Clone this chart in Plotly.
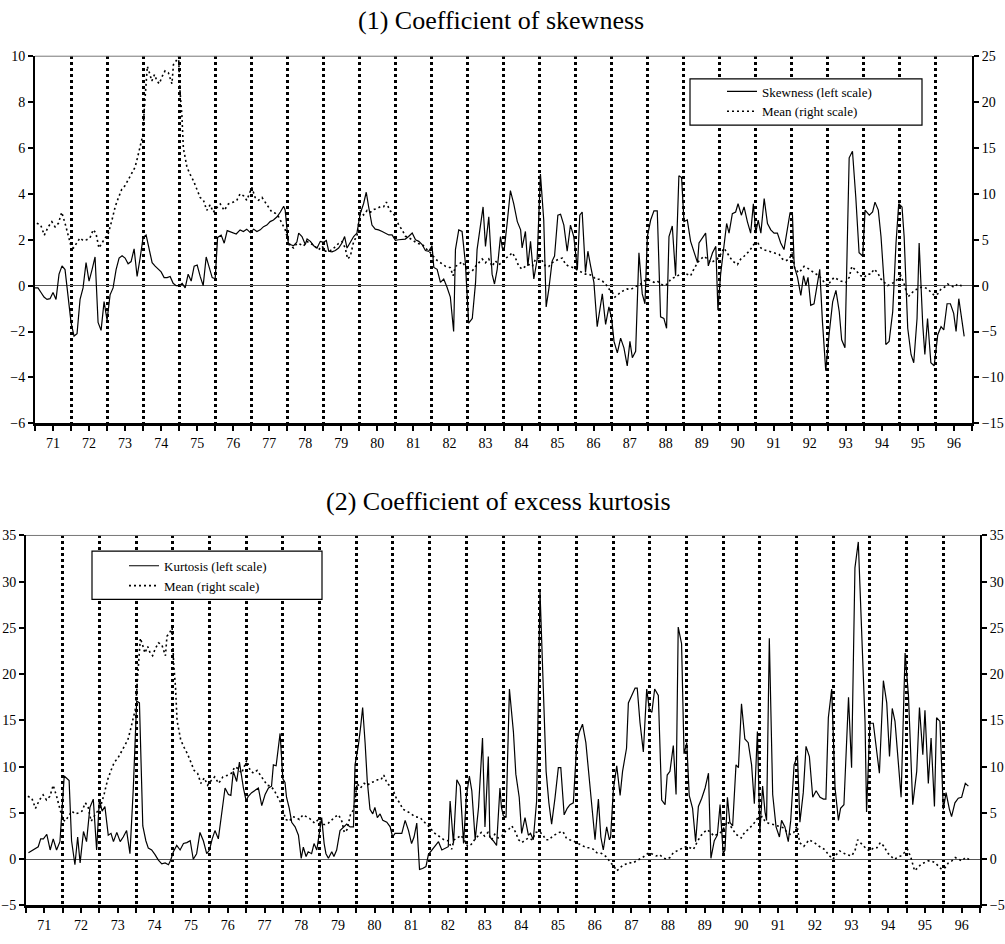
import plotly.graph_objects as go

# ---------------- data (month index from Jan-1971, value) ----------------
skew_m = [0, 1, 2, 3, 4, 5, 6, 7, 8, 9, 10, 11, 12, 13, 14, 15, 16, 17, 18, 19, 20, 21, 22, 23, 24, 25, 26, 27, 28, 29,
          30, 31, 32, 33, 34, 35, 36, 37, 38, 39, 40, 41, 42, 43, 44, 45, 46, 47, 48, 49, 50, 51, 52, 53, 54, 55, 56, 57,
          58, 59, 60, 60.8, 62, 63, 64, 65, 66, 67,
          68.3, 69.4, 70.5, 71.7, 72.8, 73.9, 75, 76.1, 77.2, 78.3, 79.4, 80.6, 81.7, 82.8, 83.3, 83.9, 84.4, 85, 86.1,
          87.2, 87.8, 88.9, 90, 90.6, 91.7, 92.8, 93.9, 95, 96.1, 97, 97.8, 98.9, 100, 101.1, 102.2, 103.1, 103.9, 105,
          106.1, 107.2, 108.3, 109.4, 110.3, 111.1, 112.2, 113.3, 114.4, 115.6, 116.7, 117.8, 118.9, 120, 121.1, 122.2,
          123.3, 124.4, 125.6, 126.7, 127.8, 128.9, 130, 131.1, 132.2, 132.8, 133.9, 135, 136.1, 137.2, 138.3, 139.4,
          140, 141.1, 142.2, 143.3, 144.4, 145.6, 146.7, 147.2, 148.3,
          149.2, 150, 151.1, 152.2, 153, 153.9, 155, 155.6, 156.3, 157.2, 158.3, 159.4, 160.6, 161.7, 162.2, 163.3,
          164.1, 165, 166.1, 167.2, 168.3, 169.4, 170.2, 171.1, 172.2, 173, 174.1, 175, 176.1, 177.2, 178.3, 179.4,
          180.6, 181.4, 182.2, 183.3, 184.1, 185, 186.1, 187.2, 188.3, 188.9, 190, 191.1, 192, 192.8, 193.9, 195, 196.1,
          197.2, 198.1, 198.9, 200, 201.1, 202.2, 203.1, 203.9, 205, 206.1, 207.2, 208.3, 209.4, 210.3, 211.1, 212.2,
          213.3, 214.4, 215.3, 216.1, 217.2, 218.3, 219.4, 220.6, 221.1, 222.2, 223.3, 224.2, 225.6, 226.7, 227.4,
          228.3, 229.4, 230.3, 231.1,
          232.2, 233.3, 234.1, 235.2, 236.1, 237.2, 238.3, 239.2, 240, 240.8, 241.7, 242.8, 243.9, 245, 246.1, 247.2,
          248.3, 249.4, 250.6, 251.4, 252.2, 252.8, 253.9, 255, 255.9, 256.7, 257.4, 258.3, 259.4, 260.6, 261.3, 262.2,
          263.3, 264.4, 265.6, 266.7, 267.8, 268.6, 269.7, 271.1, 272.2, 273.3, 274.4, 275.6, 276.4, 277.8, 278.9,
          279.7, 280.8, 281.7, 282.8, 283.3, 284.4, 285.6, 286.7, 287.6, 288.7, 289.4, 290.6, 291.7, 292.6, 293.7,
          294.4, 295.6, 296.3, 297.2, 298.3, 299.4, 300.6, 301.7, 302.6, 303.7, 304.8, 305.9, 306.7, 307.6, 308.6, 309.4]
skew_v = [-0.1, -0.1, -0.3, -0.5, -0.6, -0.57, -0.3, -0.6, 0.5, 0.86, 0.7, -0.5, -1.6, -2.2, -2.1, -0.6, -0.1, 1.0, 0.2,
          0.7, 1.25, -1.6, -1.95, -0.7, -1.5, -0.4, -0.1, 0.7, 1.2, 1.3, 1.2, 0.95, 1.05, 1.6, 0.4, 1.2, 2.1, 2.2, 1.6,
          1.0, 0.85, 0.7, 0.6, 0.35, 0.35, 0.4, 0.1, 0.0, 0.0, 0.1, -0.1, 0.5, 0.2, 0.85, 0.9, 0.4, 0.0, 1.25, 0.8, 0.35,
          0.3, 2.1, 2.2, 1.85, 2.4, 2.35, 2.3, 2.25,
          2.43, 2.36, 2.46, 2.31, 2.46, 2.36, 2.43, 2.57, 2.64, 2.79, 2.86, 3.0, 3.21, 3.46, 3.29, 2.57, 1.79, 1.79,
          1.74, 1.9, 2.29, 2.14, 1.79, 2.03, 1.93, 1.74, 1.64, 1.93, 1.89, 1.97, 1.5, 1.47, 1.53, 1.64, 1.86, 2.14,
          1.64, 1.89, 2.14, 2.29, 3.14, 3.57, 4.07, 3.43, 2.64, 2.46, 2.43, 2.36, 2.29, 2.21, 2.21, 1.97, 2.0, 2.0,
          2.03, 2.14, 2.29, 2.0, 1.93, 1.79, 1.53, 1.5, 1.74, 0.79, 0.71, 0.14, 0.29, -0.07, -0.5, -2.0, 1.57, 2.43,
          2.36, 1.0, -1.64, -1.43, 0.14, 1.57, 2.71,
          3.43, 1.71, 3.0, 0.5, 0.07, 0.71, 2.14, 1.64, 1.64, 2.71, 4.14, 3.57, 2.79, 2.43, 1.64, 2.36, 0.86, 1.93,
          0.29, 1.14, 4.86, 2.86, -0.93, -0.14, 1.07, 1.29, 3.07, 3.11, 2.64, 1.5, 2.64, 2.14, 0.71, 3.07, 3.21, 0.57,
          1.5, 0.86, 0.14, -1.79, -0.71, -0.36, -1.69, -0.93, -1.43, -2.43, -2.93, -2.29, -2.71, -3.5, -2.43, -3.14,
          -2.86, 1.43, -0.36, -0.79, 2.14, 2.86, 3.26, 3.26, -1.36, -1.43, -1.86, 2.14, 2.6, 0.43, 4.79, 4.71, 2.79,
          2.86, 1.93, 1.43, 1.0, 1.86, 2.07, 2.29, 0.86, 1.43, 1.71, -1.07, 0.5, 1.79, 2.71, 2.29,
          3.14, 3.21, 3.57, 3.07, 3.43, 2.79, 2.29, 3.57, 2.29, 2.86, 2.29, 3.79, 2.71, 2.43, 2.29, 2.29, 1.86, 1.57,
          2.43, 3.17, 3.14, 0.86, 0.36, -0.43, 0.43, 0.0, 0.36, -0.86, -0.79, 0.29, 0.71, -1.57, -3.71, -2.14, -0.71,
          -0.21, -1.14, -2.36, -2.71, 5.57, 5.86, 3.86, 1.43, 1.29, 3.29, 3.07, 3.21, 3.64, 3.29, 2.14, 0.0, -2.57,
          -2.43, -1.14, 1.86, 3.57, 3.43, 2.14, -1.86, -3.0, -3.36, -1.43, 1.86, -1.71, -3.0, -1.43, -3.36, -3.5, -2.14,
          -1.79, -1.93, -0.79, -0.79, -1.21, -2.0, -0.57, -1.43, -2.21]

mean_m = [0.6, 1.9, 3.1, 4.4, 5.6, 6.7, 7.8, 8.9, 10, 11.1, 12, 12.8, 13.9, 15, 16.1, 17.2, 18.3, 19.4, 20.3, 21.3, 22.2,
          23.3, 24.4, 25.6, 26.7, 27.8, 28.9, 30, 31.1, 32.2, 33.3, 34.1, 35, 35.9, 36.4, 36.9, 37.4, 38.1, 38.9, 39.8,
          40.6, 41.4, 42.2, 43.3, 44.4, 45.6, 46.1, 47, 47.8, 48.3, 48.9, 49.4, 50.6, 51.7, 52.8, 53.9, 55, 56.1, 57.2,
          58.3, 59.4, 60.3, 61.7, 63, 64.4, 66.1, 67.2,
          68.3, 69.4, 70.5, 71.7, 72.2, 73.3, 74.4, 75.6, 76.7, 77.8, 78.9, 80, 81.1, 82.2, 83.3, 83.9, 85, 86.1, 87.2,
          88.3, 89.4, 90.6, 91.7, 92.8, 94.4, 95.6, 96.7, 97.8, 98.9, 100, 101.1, 102.2, 103.3, 104.1, 105, 106.1, 107.2,
          108.3, 109.4, 110.6, 111.7, 112.8, 113.9, 115, 116.1, 117, 118.1, 119.2, 120, 121.1, 122.2, 123.3, 124.4,
          125.6, 127.2, 128.9, 130, 131.1, 132.2, 133.3, 135, 136.7, 138.3, 139.2, 140, 141.1, 142.2, 143.3, 144.4,
          145.6, 146.7, 147.8, 148.9,
          150, 151.1, 152.2, 153.3, 154.4, 155.6, 156.7, 157.8, 158.9, 160, 161.1, 162.2, 163.3, 164.4, 165.6, 166.7,
          167.8, 168.9, 170, 171.1, 172.2, 173.3, 174.4, 175.6, 176.7, 177.8, 178.9, 180, 181.1, 182.2, 183.3, 184.4,
          185.6, 186.7, 187.8, 188.9, 190, 191.1, 192.2, 193.1, 193.9, 195, 196.1, 197.2, 198.3, 199.4, 200.6, 201.7,
          202.8, 203.9, 205, 206.1, 207.2, 208.3, 209.4, 210.6, 211.7, 212.8, 213.9, 215, 216.1, 217.2, 218.3, 219.4,
          220.6, 221.7, 222.8, 223.9, 225, 226.1, 227.2,
          228.3, 229.4, 230.6, 232.2, 233.9, 235, 236.1, 237.8, 239.4, 240.8, 241.7, 242.8, 244.4, 246.1, 247.8, 248.9,
          250, 251.1, 252.2, 253, 254.4, 256.1, 257.8, 259.4, 261.1, 262.8, 263.9, 265, 266.1, 267.2, 268.3, 270, 271.1,
          272, 273.3, 275, 276.1, 277.2, 278.3, 279.4, 280.6, 281.7, 282.8, 283.9, 285, 286.1, 287.2, 288.3, 289.4,
          290.6, 291.7, 292.8, 293.9, 295, 296.1, 297.2, 298.3, 299.4, 300.6, 301.7, 302.8, 303.9, 305, 306.1, 307.2,
          308.3, 309.4]
mean_v = [6.8, 6.6, 5.5, 6.4, 6.96, 6.4, 6.8, 8.0, 6.8, 5.4, 4.3, 4.1, 4.6, 5.2, 4.9, 5.0, 5.2, 6.1, 5.7, 4.1, 4.6, 5.2,
          5.7, 7.1, 8.6, 9.6, 10.5, 10.9, 11.6, 12.3, 12.9, 13.9, 15.0, 16.4, 19.3, 21.8, 23.9, 23.2, 22.3, 23.0, 22.3,
          22.0, 22.7, 23.4, 23.2, 22.0, 24.1, 24.5, 25.0, 21.1, 18.6, 15.0, 12.9, 12.1, 11.4, 10.5, 9.6, 9.3, 8.2, 8.8,
          8.0, 8.4, 8.9, 8.2, 8.9, 9.1, 9.3,
          10.0, 9.8, 9.3, 10.4, 10.7, 9.6, 9.3, 9.6, 9.1, 8.6, 8.0, 7.9, 7.5, 6.8, 6.1, 5.4, 4.3, 4.1, 4.6, 4.5, 4.3,
          4.8, 4.6, 4.4, 3.9, 4.3, 3.75, 3.75, 3.9, 4.3, 4.6, 4.8, 4.1, 2.9, 3.2, 4.8, 5.4, 8.2, 7.7, 8.2, 8.0, 8.3, 8.4,
          8.6, 8.6, 9.1, 8.2, 7.9, 7.5, 6.6, 6.1, 5.4, 5.2, 5.0, 4.6, 4.5, 4.1, 3.75, 3.4, 2.9, 2.5, 2.1, 1.96, 1.07,
          2.1, 2.3, 2.6, 2.1, 1.4, 1.6, 2.1, 2.5, 2.9,
          2.5, 2.9, 2.1, 2.7, 2.3, 2.5, 3.0, 3.2, 3.6, 3.0, 2.1, 1.8, 2.1, 2.3, 2.1, 2.9, 3.0, 2.7, 2.1, 2.1, 2.5, 2.7,
          2.9, 3.0, 2.3, 2.1, 2.0, 1.8, 1.6, 1.4, 1.25, 1.25, 1.07, 0.7, 0.7, 0.5, 0.2, -0.36, -0.7, -1.25, -1.07, -0.7,
          -0.5, -0.36, -0.43, -0.18, 0.0, 0.18, 0.5, 0.7, 0.5, 0.36, 0.5, 0.18, 0.0, 0.18, 0.7, 0.9, 1.07, 1.25, 1.4,
          1.25, 1.07, 1.8, 2.5, 2.9, 3.2, 2.9, 2.5, 2.7, 2.9,
          3.4, 4.1, 3.5, 2.7, 2.3, 2.9, 3.2, 3.75, 4.5, 4.6, 4.1, 3.9, 3.75, 3.6, 3.4, 2.9, 2.7, 2.9, 3.6, 1.8, 1.4,
          2.1, 1.8, 1.4, 1.07, 0.36, 0.0, 0.5, 0.9, 0.7, 0.5, 0.36, 0.9, 2.1, 1.6, 1.07, 0.9, 1.25, 1.25, 1.8, 1.4,
          0.7, 0.36, 0.0, 0.18, 0.36, 0.7, 1.07, 0.18, -1.25, -0.9, -0.5, -0.36, -0.18, -0.18, -0.36, -0.7, -1.07,
          -0.9, -0.36, -0.18, 0.18, 0.0, -0.18, 0.18, 0.0, 0.0]

kurt_m = [0.8, 1.9, 2.9, 4, 4.8, 5.7, 6.8, 7.9, 8.9, 10, 11.1, 12.5, 14.1, 14.9, 16, 16.9, 17.7, 18.8, 19.8, 20.9, 22,
          23.1, 24, 24.9, 25.8, 26.9, 27.8, 28.6, 29.7, 30.8, 31.8, 32.9, 34, 35.1, 36.2, 37.1, 38.2, 39.2, 40, 41.1,
          42.2, 43.3, 44.4, 45.5, 46.6, 47.3, 48.2, 49.3, 50.4, 51.5, 52.6, 53.7, 54.7, 55.8, 56.9, 58, 59.1, 60, 60.9,
          61.8, 62.9, 64, 65.1, 66.2, 67, 67.8, 68.9, 69.8,
          71.1, 72, 72.7, 73.8, 74.9, 76, 77.1, 78.2, 79.3, 80.3, 80.9, 81.8, 83.1, 84, 84.7, 85.2, 86.1, 86.9, 88,
          89.1, 90, 90.7, 91.6, 92.3, 93.4, 94.2, 95.1, 96, 96.7, 97.5, 98.1, 98.9, 100, 100.7, 101.6, 102.7, 103.8,
          104.9, 106, 107.1, 107.6, 108.7, 109.5, 110.1, 110.9, 111.6, 112.5, 113.4, 114.1, 114.9, 115.8, 116.7, 118,
          119.1, 119.9, 120.7, 121.8, 122.9, 124, 125.1, 126.1, 126.9, 127.8, 128.7, 129.7, 130.8, 131.6, 132.7, 133.8,
          134.9, 136, 137.1, 138.1, 138.7, 139.8, 140.9, 142, 143.1, 144, 145, 145.8, 146.9, 148,
          149.3, 150.1, 151.2, 151.7, 152.8, 153.9, 155, 155.5, 156.1, 157, 158.1, 158.8, 159.4, 160.2, 161.3, 162.1,
          163.2, 164.3, 165, 165.9, 167, 168.1, 169.2, 170.1, 171, 171.9, 173, 174.1, 174.9, 176, 177, 177.9, 179,
          180.1, 180.9, 182, 183.1, 184, 185, 186.1, 187.2, 188, 188.8, 189.9, 190.8, 191.2, 192.1, 193.2, 194.3, 195.1,
          196.4, 197, 198.1, 199.2, 199.9, 200.8, 201.9, 203, 203.9, 204.7, 205.6, 206.8, 207.9, 209, 209.7, 210.6,
          211.7, 212.6, 213.3, 214.4, 215.2, 216.1, 216.9, 218, 219, 219.9, 221, 222.1, 223.2, 224, 225.1, 226.1,
          227, 228, 228.6, 229.4, 230.2, 231.1, 232.2, 233, 234, 235.1, 236.2, 237.3, 238.2, 239.2, 240, 240.9, 241.7,
          242.2, 243.1, 244.2, 245.3, 246.4, 247.1, 248.2, 249.3, 250.1, 251.2, 252.3, 253.1, 254.2, 255.1, 256.2,
          257.3, 258.4, 259.7, 260.8, 261.6, 262.4, 263.5, 264.6, 265.7, 266.4, 267.5, 269, 270, 271.1, 272.2, 273.3,
          274.4, 274.9, 276, 277.1, 278.2, 279.1, 280.4, 281.5, 282.4, 283.3, 284.2, 285.1, 286.2, 287.5, 288.6, 290,
          291.3, 292.2, 293.3, 294, 295.1, 296, 297.1, 297.8, 298.9, 300, 300.9, 302, 302.7, 303.8, 304.9, 306, 307.2,
          308.2, 309]
kurt_v = [0.7, 0.9, 1.06, 1.35, 2.2, 2.2, 2.7, 1.0, 2.2, 1.0, 1.9, 9.0, 8.5, 2.0, -0.6, 2.4, -0.4, 3.0, 1.9, 5.6, 6.5,
          1.0, 6.5, 5.2, 5.7, 2.6, 2.8, 1.9, 2.9, 1.9, 2.4, 3.1, 0.6, 7.7, 17.1, 16.9, 3.6, 2.0, 1.2, 1.0, 0.5, -0.1,
          -0.5, -0.4, -0.6, -0.1, 0.8, 1.5, 1.0, 1.7, 1.8, 2.0, 0.0, 0.6, 2.9, 2.0, 0.6, 1.0, 2.2, 3.1, 2.2, 4.9, 7.7,
          7.0, 6.9, 9.5, 8.4, 10.5,
          7.7, 6.3, 6.8, 7.2, 7.5, 7.7, 5.8, 7.0, 7.7, 7.9, 10.2, 10.1, 13.6, 8.7, 8.3, 6.7, 5.5, 4.0, 3.5, 2.6, 0.1,
          1.3, 0.3, 0.8, 0.6, 1.7, 1.0, 2.8, 4.5, 1.7, 0.6, 0.1, 0.8, 0.3, 1.0, 3.1, 3.5, 3.8, 3.5, 3.5, 10.2, 12.3,
          14.5, 16.4, 12.6, 8.5, 5.4, 4.9, 5.6, 4.5, 4.9, 4.2, 4.0, 3.5, 2.4, 2.8, 2.8, 2.8, 4.2, 3.1, 1.7, 2.4, 3.9,
          -1.1, -1.0, -0.8, 0.5, 1.0, 1.5, 1.9, 1.0, 1.2, 1.35, 6.3, 1.7, 8.6, 7.9, 1.7, 6.7, 9.0, 7.4, 2.1, 5.6,
          13.1, 3.5, 11.1, 2.4, 2.0, 1.5, 7.7, 5.6, 4.7, 4.5, 18.4, 15.6, 13.8, 9.2, 6.7, 2.8, 4.5, 2.6, 2.8, 2.1, 6.3,
          29.0, 17.7, 9.5, 6.1, 3.8, 6.6, 9.9, 9.9, 4.8, 5.5, 5.9, 6.1, 12.3, 13.7, 14.6, 12.6, 9.2, 5.6, 2.1, 6.5,
          2.4, 1.0, 3.5, 2.1, 2.4, 7.6, 10.1, 6.9, 9.5, 12.0, 16.9, 17.7, 18.5, 18.5, 14.8, 11.6, 18.4, 16.1, 15.9,
          18.4, 17.7, 6.4, 5.9, 9.1, 9.5, 12.3, 7.0, 25.1, 23.3, 11.4, 12.6, 6.9, 5.5, 1.9, 5.7, 6.6, 7.7, 9.3, 0.1,
          2.0, 2.6,
          5.9, 0.6, 1.0, 6.7, 4.0, 3.6, 10.2, 9.9, 16.8, 13.0, 12.6, 10.2, 6.0, 13.8, 2.8, 7.9, 5.1, 4.2, 23.9, 7.0,
          3.5, 2.4, 4.2, 3.5, 1.9, 4.2, 10.2, 11.2, 4.0, 7.2, 12.2, 11.1, 6.7, 7.4, 6.7, 6.5, 6.5, 15.3, 18.4, 7.7,
          4.2, 5.5, 5.9, 17.5, 9.9, 31.5, 34.3, 24.8, 14.9, 5.1, 14.7, 14.7, 11.6, 9.3, 19.3, 16.9, 11.1, 16.3, 14.9,
          11.3, 6.7, 22.3, 17.7, 5.9, 9.5, 16.4, 11.3, 16.1, 8.2, 13.1, 5.7, 15.3, 14.9, 5.4, 7.2, 5.4, 4.6, 6.1, 6.6,
          6.7, 8.2, 7.9]

years = list(range(1971, 1997))
year_labels = [str(y % 100) for y in years]


def to_year(months):
    return [1971 + m / 12.0 for m in months]


FONT = "Liberation Serif"
W, H = 1005, 944

fig = go.Figure()
fig.add_trace(go.Scatter(x=to_year(skew_m), y=skew_v, mode="lines", name="Skewness (left scale)",
                         line=dict(color="black", width=1.2), xaxis="x", yaxis="y", legend="legend"))
fig.add_trace(go.Scatter(x=to_year(mean_m), y=mean_v, mode="lines", name="Mean (right scale)",
                         line=dict(color="black", width=1.6, dash="2px,3px"), xaxis="x", yaxis="y2",
                         legend="legend"))
fig.add_trace(go.Scatter(x=to_year(kurt_m), y=kurt_v, mode="lines", name="Kurtosis (left scale)",
                         line=dict(color="black", width=1.2), xaxis="x2", yaxis="y3", legend="legend2"))
fig.add_trace(go.Scatter(x=to_year(mean_m), y=mean_v, mode="lines", name="Mean (right scale)",
                         line=dict(color="black", width=1.6, dash="2px,3px"), xaxis="x2", yaxis="y4",
                         legend="legend2"))


def xaxis_cfg(domain, anchor):
    return dict(domain=domain, anchor=anchor, range=[years[0], years[-1] + 1],
                tickmode="array", tickvals=[y + 0.5 for y in years], ticktext=year_labels,
                ticks="outside", ticklen=5, tickwidth=1.5, tickcolor="black",
                showgrid=False, zeroline=False, showline=True, linecolor="black", linewidth=3,
                tickfont=dict(family=FONT, size=14, color="black"),
                minor=dict(tickmode="linear", tick0=years[0], dtick=1, ticks="outside", ticklen=5,
                           tickwidth=1.5, tickcolor="black", showgrid=True, gridcolor="black",
                           gridwidth=2.5, griddash="3px,3px"))


def yaxis_cfg(domain, anchor, rng, dtick, side="left", overlaying=None, zero=False):
    d = dict(domain=domain, anchor=anchor, range=rng, dtick=dtick, side=side,
             ticks="outside", ticklen=5, tickwidth=1.5, tickcolor="black",
             showgrid=False, showline=True, linecolor="black", linewidth=2,
             zeroline=zero, zerolinecolor="#555555", zerolinewidth=1,
             tickfont=dict(family=FONT, size=14, color="black"))
    if overlaying:
        d["overlaying"] = overlaying
        d.pop("domain")
    return d


top_x = [35 / W, 972 / W]
top_y = [1 - 423 / H, 1 - 50 / H]
bot_x = [26 / W, 980 / W]
bot_y = [1 - 913 / H, 1 - 537 / H]

legend_common = dict(bgcolor="rgba(0,0,0,0)", borderwidth=0,
                     font=dict(family=FONT, size=13, color="black"),
                     xanchor="left", yanchor="middle", tracegroupgap=0)


def legend_box(x0, y0, x1, y1):
    return dict(type="rect", xref="paper", yref="paper", x0=x0 / W, x1=x1 / W,
                y0=1 - y1 / H, y1=1 - y0 / H, layer="above",
                fillcolor="white", line=dict(color="black", width=1.2))


fig.update_layout(
    width=W, height=H, margin=dict(l=0, r=0, t=0, b=0),
    paper_bgcolor="white", plot_bgcolor="white",
    font=dict(family=FONT, size=14, color="black"),
    xaxis=xaxis_cfg(top_x, "y"),
    yaxis=yaxis_cfg(top_y, "x", [-6, 10], 2, zero=True),
    yaxis2=yaxis_cfg(None, "x", [-15, 25], 5, side="right", overlaying="y"),
    xaxis2=xaxis_cfg(bot_x, "y3"),
    yaxis3=yaxis_cfg(bot_y, "x2", [-5, 35], 5, zero=True),
    yaxis4=yaxis_cfg(None, "x2", [-5, 35], 5, side="right", overlaying="y3"),
    legend=dict(x=722 / W, y=1 - 96 / H, **legend_common),
    legend2=dict(x=124 / W, y=1 - 578 / H, **legend_common),
    showlegend=True,
    annotations=[
        dict(text="(1) Coefficient of skewness", x=501 / W, y=1 - 14 / H, xref="paper", yref="paper",
             xanchor="center", yanchor="middle", showarrow=False,
             font=dict(family=FONT, size=26, color="black")),
        dict(text="(2) Coefficient of excess kurtosis", x=498 / W, y=1 - 502 / H, xref="paper", yref="paper",
             xanchor="center", yanchor="middle", showarrow=False,
             font=dict(family=FONT, size=26, color="black")),
    ],
    shapes=[
        dict(type="line", xref="x domain", yref="y domain", x0=0, x1=1, y0=1, y1=1,
             line=dict(color="#777777", width=1)),
        dict(type="line", xref="x2 domain", yref="y3 domain", x0=0, x1=1, y0=1, y1=1,
             line=dict(color="#777777", width=1)),
        legend_box(690, 73, 922, 120),
        legend_box(92, 553, 322, 602),
    ],
)

fig.write_html("out.html", config={"displayModeBar": False},
               post_script="document.body.style.margin='0px';document.body.style.overflow='hidden';")
